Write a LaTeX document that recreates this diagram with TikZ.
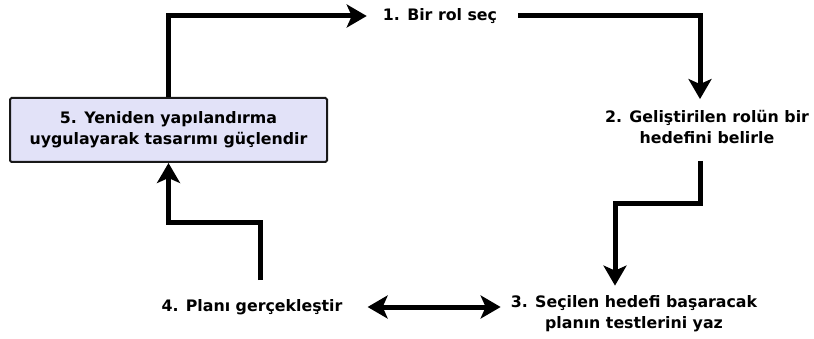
\documentclass[tikz,border=0pt]{standalone}
\usepackage{fontspec}
\setmainfont{DejaVu Sans}
\usetikzlibrary{arrows.meta}
\definecolor{boxfill}{RGB}{226,226,248}
\tikzset{
  x=1pt, y=-1pt,
  label/.style={inner sep=0pt, align=center, font=\fontsize{15.8}{21}\selectfont\bfseries},
  stepbox/.style={label, draw=black!90, line width=2pt, fill=boxfill,
                  rounded corners=1.5pt, minimum width=317pt, minimum height=64pt},
  flow/.style={line width=5pt, line join=miter, -{Stealth[length=20pt, width=23pt, inset=5pt]}},
  twoway/.style={line width=5pt, {Stealth[length=20pt, width=23pt, inset=5pt]}-{Stealth[length=20pt, width=23pt, inset=5pt]}}
}
\begin{document}
\begin{tikzpicture}
\useasboundingbox (0,0) rectangle (814,339);

% the five steps of the cycle
\node[label]   (n1) at (440,16)  {1. Bir rol seç};
\node[label]   (n2) at (707,127) {2. Geliştirilen rolün bir\\hedefini belirle};
\node[label]   (n3) at (634,314) {3. Seçilen hedefi başaracak\\planın testlerini yaz};
\node[label]   (n4) at (252,307) {4. Planı gerçekleştir};
\node[stepbox] (n5) at (168.5,130) {5. Yeniden yapılandırma\\uygulayarak tasarımı güçlendir};

% connectors
\draw[flow] (n5.north) |- ([xshift=-16pt]n1.west);
\draw[flow, shorten <=21pt, shorten >=11pt]
  (n1.east) -| ([xshift=-7pt]n2.north);
\draw[flow, shorten <=17pt, shorten >=10pt]
  ([xshift=-7pt]n2.south) -- ++(0,60) -| ([xshift=-19pt]n3.north);
\draw[flow, shorten <=19pt]
  ([xshift=8pt]n4.north) -- ++(0,-77) -| (n5.south);
\draw[twoway, shorten <=25pt, shorten >=10pt] (n4.east) -- (n4.east -| n3.west);
\end{tikzpicture}
\end{document}
